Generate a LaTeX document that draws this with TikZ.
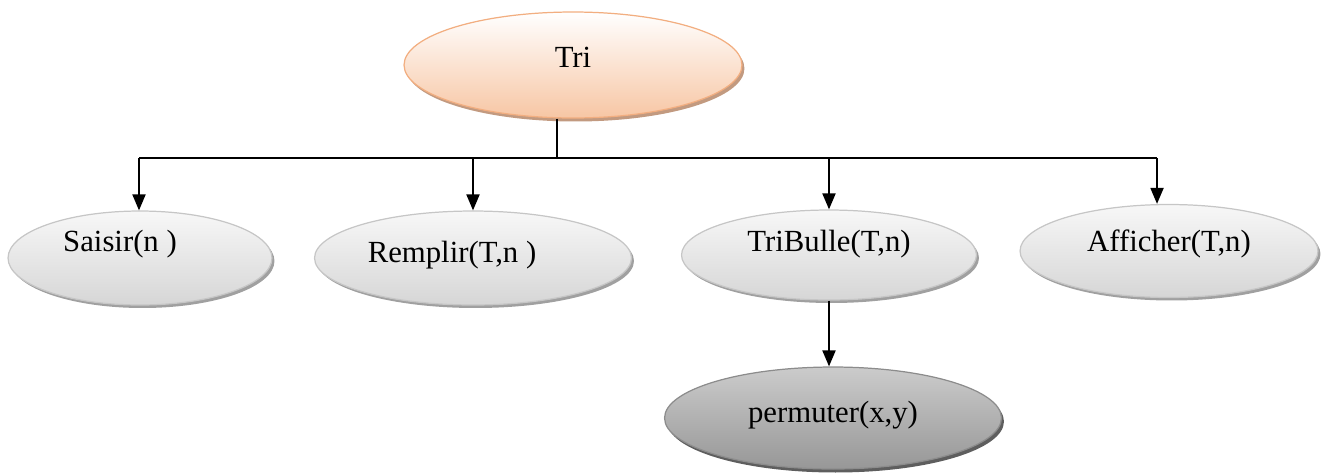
\documentclass[tikz,border=0pt]{standalone}
\usepackage{fontspec}
\setmainfont{Liberation Serif}
\newfontfamily\policeovale{Liberation Serif}
\usetikzlibrary{shapes.geometric,shadows,arrows.meta}

\definecolor{peche}{HTML}{F7C6A4}
\definecolor{pechebord}{HTML}{F2AE80}
\definecolor{pecheombre}{HTML}{C29A80}
\definecolor{grisclair}{HTML}{D6D6D6}
\definecolor{grisbord}{HTML}{C6C6C6}
\definecolor{grisombre}{HTML}{A0A0A0}
\definecolor{grisfonce}{HTML}{979797}
\definecolor{grisfoncebord}{HTML}{8C8C8C}
\definecolor{grisfonceombre}{HTML}{5E5E5E}

\tikzset{
  texte/.style={font=\policeovale\fontsize{17.5}{20}\selectfont},
  ovale/.style={ellipse, line width=0.7pt},
  ovalegris/.style={ovale, draw=grisbord, top color=white!97!black, bottom color=grisclair,
    drop shadow={shadow xshift=0.05cm, shadow yshift=-0.06cm, fill=grisombre, opacity=1}},
  ovaletri/.style={ovale, draw=pechebord, top color=white, bottom color=peche,
    drop shadow={shadow xshift=0.05cm, shadow yshift=-0.07cm, fill=pecheombre, opacity=1}},
  ovalefonce/.style={ovale, draw=grisfoncebord, top color=grisclair!95!black, bottom color=grisfonce,
    drop shadow={shadow xshift=0.05cm, shadow yshift=-0.07cm, fill=grisfonceombre, opacity=1}},
  trait/.style={line width=1.1pt},
  fleche/.style={trait, -{Triangle[length=3.2mm, width=2.6mm]}}
}

\begin{document}
\begin{tikzpicture}[x=0.02cm, y=-0.02cm]
  %%%%% START %%%%%
  \useasboundingbox (0,0) rectangle (1327,474);

  \node[ovaletri, minimum width=6.76cm, minimum height=2.12cm,
    label={[texte, yshift=0.16cm]center:Tri}] (tri) at (573,65) {};

  \node[ovalegris, minimum width=5.28cm, minimum height=1.88cm,
    label={[texte, xshift=-0.4cm, yshift=0.28cm]center:Saisir(n )}] (saisir) at (140,258) {};
  \node[ovalegris, minimum width=6.34cm, minimum height=1.88cm,
    label={[texte, xshift=-0.42cm, yshift=0.06cm]center:Remplir(T,n )}] (remplir) at (473,258) {};
  \node[ovalegris, minimum width=5.9cm, minimum height=1.8cm,
    label={[texte, yshift=0.22cm]center:TriBulle(T,n)}] (tribulle) at (829,255) {};
  \node[ovalegris, minimum width=5.96cm, minimum height=1.86cm,
    label={[texte, yshift=0.14cm]center:Afficher(T,n)}] (afficher) at (1169,251) {};

  \node[ovalefonce, minimum width=6.74cm, minimum height=2.04cm,
    label={[texte, yshift=0.06cm]center:permuter(x,y)}] (permuter) at (833,418) {};

  %%%%% liaisons %%%%%
  \coordinate (bus) at (557,158);
  \coordinate (g) at (139,158);
  \coordinate (d) at (1157,158);

  \draw[trait] (bus |- tri.south) -- (bus);
  \draw[trait] (g) -- (d);
  \draw[fleche] (g) -- (g |- saisir.north);
  \draw[fleche] (remplir.north |- g) -- (remplir.north);
  \draw[fleche] (tribulle.north |- g) -- (tribulle.north);
  \draw[fleche] (d) -- (d |- afficher.north);
  \draw[fleche] (tribulle.south) -- (tribulle.south |- permuter.north);
  %%%%% END %%%%%
\end{tikzpicture}
\end{document}
